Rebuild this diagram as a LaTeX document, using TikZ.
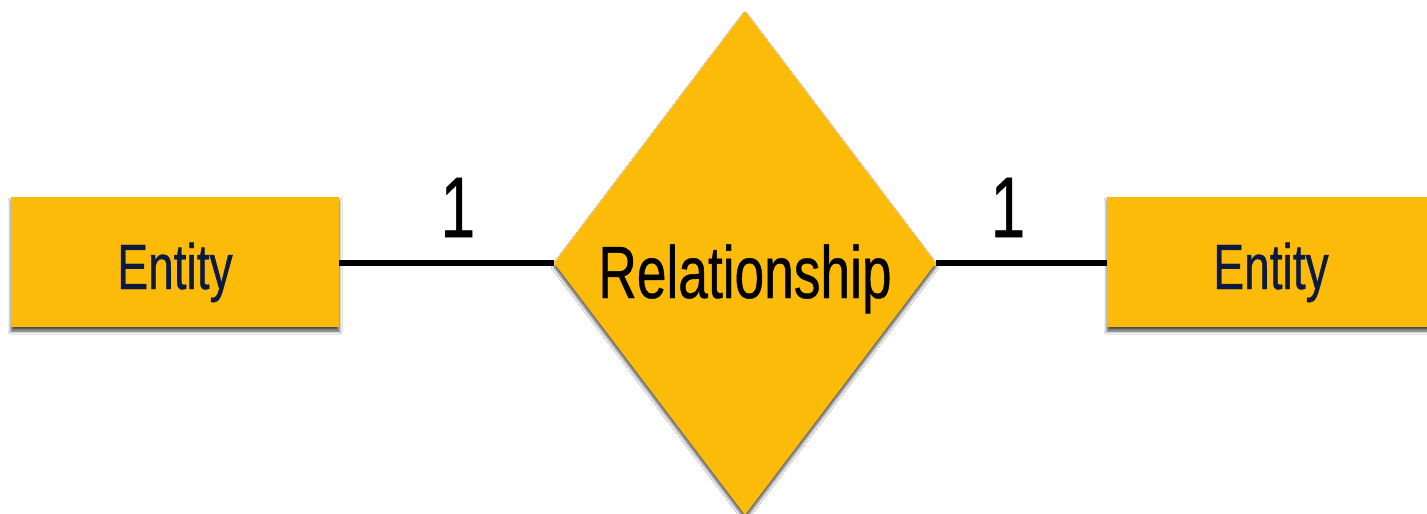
\documentclass[tikz,border=0pt]{standalone}
\usepackage{fontspec}
\setmainfont{Liberation Sans}
\newfontfamily\condfont[FakeStretch=0.72,FakeBold=0.6]{Liberation Sans}
\usetikzlibrary{shapes.geometric,shadows.blur}
\definecolor{erfill}{HTML}{FCBA09}
\definecolor{entitytext}{HTML}{0D1A40}
\tikzset{
  shade/.style={blur shadow={shadow xshift=0pt, shadow yshift=-4pt, shadow blur radius=3pt, shadow opacity=70}},
  entitybox/.style={rectangle, fill=erfill, draw=none, minimum width=328pt, minimum height=130pt, inner sep=0pt, shade},
  relbox/.style={diamond, fill=erfill, draw=none, minimum width=382pt, minimum height=504pt, inner sep=0pt, shade},
  entitylabel/.style={anchor=base, text=entitytext, font=\condfont\fontsize{64}{64}\selectfont, inner sep=0pt},
  rellabel/.style={anchor=base, text=black, font=\condfont\fontsize{74}{74}\selectfont, inner sep=0pt},
  cardlabel/.style={anchor=base, text=black, font=\condfont\fontsize{86}{86}\selectfont, inner sep=0pt},
  link/.style={line width=6pt, black}
}
\begin{document}
\begin{tikzpicture}[x=1pt,y=-1pt]
\path[use as bounding box, fill=white] (0,0) rectangle (1427,514);
\node[entitybox] (e1) at (175,262) {};
\node[entitybox] (e2) at (1271,262) {};
\node[relbox] (rel) at (745,263) {};
\draw[link] (e1.east |- rel.west) -- (rel.west);
\draw[link] (rel.east) -- (e2.west |- rel.east);
\node[entitylabel] (t1) at (175,289) {Entity};
\node[entitylabel] (t2) at (1271,289) {Entity};
\node[rellabel] (tr) at (745,298) {Relationship};
\node[cardlabel] (c1) at (458,237) {1};
\node[cardlabel] (c2) at (1008,237) {1};
\end{tikzpicture}
\end{document}
